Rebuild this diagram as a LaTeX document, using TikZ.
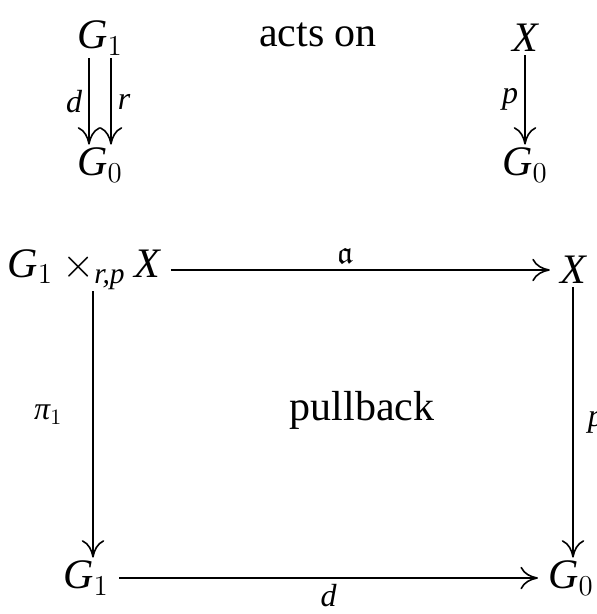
\documentclass[tikz,border=0pt]{standalone}
\usepackage{amsmath,amssymb}
\usepackage{fontspec}
\setmainfont{Liberation Serif}
\usetikzlibrary{positioning,arrows.meta}
% math letters in the italic of the text font
\newcommand{\vi}[1]{\textit{#1}}

\begin{document}
\begin{tikzpicture}[
  x=0.5pt, y=-0.5pt,
  every node/.style={font=\fontsize{21}{25}\selectfont, inner sep=1pt},
  obj/.style={anchor=center, inner xsep=5pt, inner ysep=1.5pt},
  map/.style={line width=0.8pt,
    -{Computer Modern Rightarrow[scale length=2.6, scale width=1.6]}},
  lbl/.style={font=\fontsize{16}{19}\selectfont},
]
\useasboundingbox (0,0) rectangle (597,614);

% Upper part: groupoid and space
\node[obj] (G1) at (100,38) {$\vi{G}_1$};
\node[obj] (G0l) at (100,165) {$\vi{G}_0$};
\node (acts) at (318,35) {acts on};
\node[obj] (Xt) at (525,38) {$\vi{X}$};
\node[obj] (G0r) at (525,165) {$\vi{G}_0$};

\draw[map] ([xshift=-5.5pt]G1.south) -- node[lbl, left=2pt] {$\vi{d}$} ([xshift=-5.5pt]G0l.north);
\draw[map] ([xshift=5.5pt]G1.south) -- node[lbl, right=2pt] {$\vi{r}$} ([xshift=5.5pt]G0l.north);
\draw[map] (Xt) -- node[lbl, left=2pt] {$\vi{p}$} (G0r);

% Lower part: the action square
\node[obj] (prod) at (84,270) {$\vi{G}_1\times_{\vi{r,p}}\vi{X}$};
\node[obj] (Xb) at (573,270) {$\vi{X}$};
\node[obj] (G1b) at (86,578) {$\vi{G}_1$};
\node[obj] (G0b) at (571,578) {$\vi{G}_0$};
\node (pb) at (362,410) {pullback};

\coordinate (pl) at (93,291);
\draw[map] (prod) -- node[lbl, above=2pt, pos=0.46] {$\mathfrak{a}$} (Xb);
\draw[map] (pl) -- node[lbl, left=14pt, yshift=5pt] {$\vi{π}_1$} (pl |- G1b.north);
\draw[map] (Xb) -- node[lbl, right=6pt] {$\vi{p}$} (Xb |- G0b.north);
\draw[map] (G1b) -- node[lbl, below=1.5pt] {$\vi{d}$} (G0b);

\end{tikzpicture}
\end{document}
